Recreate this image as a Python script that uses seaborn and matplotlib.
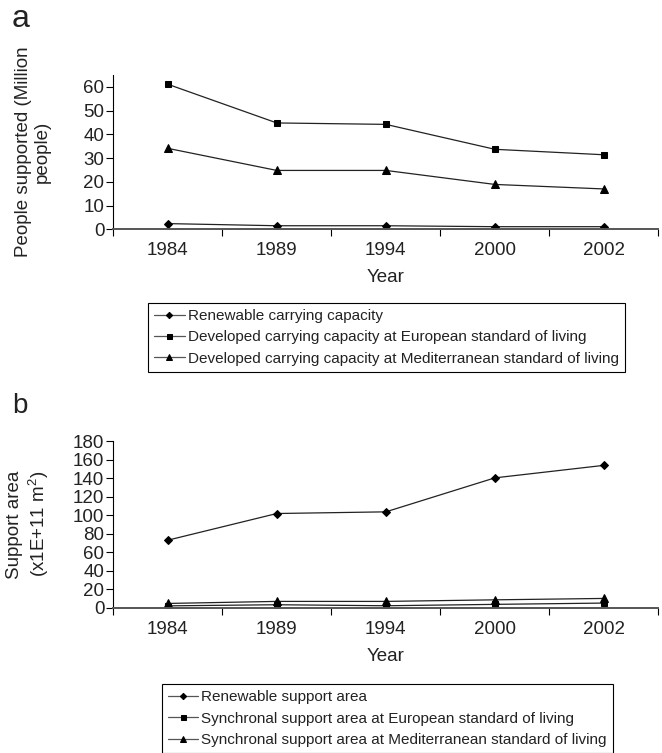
import matplotlib
matplotlib.use('Agg')
import matplotlib.pyplot as plt
import seaborn as sns
import pandas as pd
from matplotlib.ticker import FixedLocator

# ---- data ----
years = ['1984', '1989', '1994', '2000', '2002']

a_renewable = [2.4, 1.5, 1.5, 1.1, 1.1]
a_european = [61.1, 44.8, 44.2, 33.7, 31.4]
a_mediterranean = [34.1, 24.8, 24.8, 18.9, 17.0]
a_labels = ['Renewable carrying capacity',
            'Developed carrying capacity at European standard of living',
            'Developed carrying capacity at Mediterranean standard of living']

b_renewable = [72.9, 101.7, 103.5, 140.2, 153.7]
b_european = [2.0, 3.2, 2.1, 3.6, 5.0]
b_mediterranean = [4.6, 6.8, 6.8, 8.5, 10.0]
b_labels = ['Renewable support area',
            'Synchronal support area at European standard of living',
            'Synchronal support area at Mediterranean standard of living']

a_yticks = [0, 10, 20, 30, 40, 50, 60]
b_yticks = [0, 20, 40, 60, 80, 100, 120, 140, 160, 180]

# ---- style ----
sns.set_theme(style='white')
plt.rcParams['font.family'] = ['Liberation Sans', 'DejaVu Sans']
plt.rcParams['mathtext.fontset'] = 'custom'
plt.rcParams['mathtext.rm'] = 'Liberation Sans'
plt.rcParams['mathtext.it'] = 'Liberation Sans'

LINE = '#222222'
TICK_FS = 13.5
markers = ['D', 's', '^']
msizes = [4.0, 4.5, 5.5]

fig = plt.figure(figsize=(6.62, 7.53), dpi=100)
axA = fig.add_axes([113.3 / 662, 1 - 229.3 / 753, 545.1 / 662, (229.3 - 75) / 753])
axB = fig.add_axes([113.3 / 662, 1 - 607.7 / 753, 545.1 / 662, (607.7 - 441) / 753])


def draw(ax, series, labels, ylim, yticks, ylabel, legend_xy):
    for vals, lab, m, ms in zip(series, labels, markers, msizes):
        df = pd.DataFrame({'Year': years, 'Value': vals})
        sns.lineplot(data=df, x='Year', y='Value', ax=ax, color=LINE, lw=0.9,
                     marker=m, markersize=ms, markeredgecolor='black',
                     markerfacecolor='black', label=lab, sort=False)
    ax.set_xlim(-0.5, len(years) - 0.5)
    ax.set_ylim(*ylim)
    ax.set_xticks(range(len(years)))
    ax.set_xticklabels(years)
    ax.xaxis.set_minor_locator(FixedLocator([i - 0.5 for i in range(len(years) + 1)]))
    ax.set_yticks(yticks)
    ax.tick_params(axis='x', which='major', length=0, pad=9.5, labelsize=TICK_FS,
                   bottom=True, colors='#222222')
    ax.tick_params(axis='x', which='minor', length=5, width=0.8, direction='out',
                   bottom=True, color='black')
    ax.tick_params(axis='y', which='major', length=5, width=0.8, direction='out',
                   left=True, pad=1.5, labelsize=TICK_FS, color='black',
                   labelcolor='#222222')
    for s in ['top', 'right']:
        ax.spines[s].set_visible(False)
    ax.spines['left'].set_color('black')
    ax.spines['left'].set_linewidth(0.8)
    ax.spines['bottom'].set_color('#555555')
    ax.spines['bottom'].set_linewidth(1.4)
    ax.set_xlabel('Year', fontsize=TICK_FS, labelpad=7, color='#222222')
    ax.set_ylabel(ylabel, fontsize=TICK_FS, linespacing=1.2, color='#222222')
    ax.yaxis.set_label_coords(-0.114, 0.5)
    handles, labs = ax.get_legend_handles_labels()
    leg = ax.legend(handles, labs, loc='upper left', bbox_to_anchor=legend_xy,
                    bbox_transform=fig.transFigure, frameon=True, fancybox=False,
                    edgecolor='black', fontsize=11, handlelength=2.0,
                    handletextpad=0.2, labelspacing=0.48, borderpad=0.4,
                    borderaxespad=0, framealpha=1)
    leg.get_frame().set_linewidth(0.8)
    for t in leg.get_texts():
        t.set_color('#222222')
    for h in leg.legend_handles:
        h.set_markersize(h.get_markersize() * 0.8)
        h.set_color('#555555')
        h.set_markerfacecolor('black')
        h.set_markeredgecolor('black')


draw(axA, [a_renewable, a_european, a_mediterranean], a_labels, (0, 65), a_yticks,
     'People supported (Million\npeople)', (148 / 662, 1 - 303 / 753))
draw(axB, [b_renewable, b_european, b_mediterranean], b_labels, (0, 180), b_yticks,
     'Support area\n(x1E+11 m$^2$)', (161.7 / 662, 1 - 684.3 / 753))

fig.text(12 / 662, 1 - 27 / 753, 'a', fontsize=23, va='baseline', ha='left', color='#222222')
fig.text(12 / 662, 1 - 413 / 753, 'b', fontsize=20, va='baseline', ha='left', color='#222222')

fig.savefig('out.png', dpi=100)
